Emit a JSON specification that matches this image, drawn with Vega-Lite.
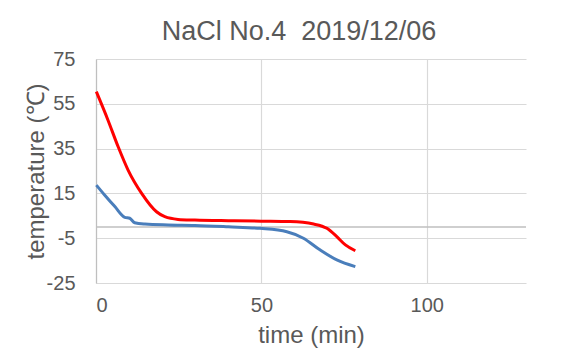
{
  "$schema": "https://vega.github.io/schema/vega-lite/v6.json",
  "width": 430,
  "height": 224,
  "autosize": {"type": "none"},
  "padding": {"left": 96, "top": 59, "right": 35, "bottom": 75},
  "background": "white",
  "title": {
    "text": "NaCl No.4\u00a0\u00a02019/12/06",
    "font": "Liberation Sans",
    "fontSize": 27,
    "fontWeight": "normal",
    "color": "#595959",
    "anchor": "middle",
    "baseline": "alphabetic",
    "offset": -18,
    "dx": -12
  },
  "config": {
    "view": {"stroke": null},
    "axis": {
      "labelFont": "Liberation Sans",
      "titleFont": "Liberation Sans",
      "labelFontSize": 20,
      "titleFontSize": 24,
      "titleFontWeight": "normal",
      "labelColor": "#595959",
      "titleColor": "#595959",
      "gridColor": "#d9d9d9",
      "gridWidth": 1.2,
      "ticks": false,
      "labelExpr": "'' + datum.value"
    }
  },
  "datasets": {
    "readings": [
      {"series": "sample", "time": 0.1, "temp": 60.4},
      {"series": "sample", "time": 3.6, "temp": 47.8},
      {"series": "sample", "time": 6.7, "temp": 35.8},
      {"series": "sample", "time": 9.7, "temp": 25.4},
      {"series": "sample", "time": 13.8, "temp": 15.0},
      {"series": "sample", "time": 18.3, "temp": 6.8},
      {"series": "sample", "time": 20.8, "temp": 4.6},
      {"series": "sample", "time": 24.8, "temp": 3.4},
      {"series": "sample", "time": 29.9, "temp": 3.1},
      {"series": "sample", "time": 40.0, "temp": 2.8},
      {"series": "sample", "time": 50.0, "temp": 2.6},
      {"series": "sample", "time": 58.7, "temp": 2.4},
      {"series": "sample", "time": 65.8, "temp": 1.3},
      {"series": "sample", "time": 69.8, "temp": -0.6},
      {"series": "sample", "time": 72.8, "temp": -4.3},
      {"series": "sample", "time": 75.4, "temp": -8.0},
      {"series": "sample", "time": 78.4, "temp": -10.6},
      {"series": "bath", "time": 0.1, "temp": 18.7},
      {"series": "bath", "time": 2.6, "temp": 14.3},
      {"series": "bath", "time": 5.7, "temp": 9.1},
      {"series": "bath", "time": 8.7, "temp": 4.3},
      {"series": "bath", "time": 10.2, "temp": 3.9},
      {"series": "bath", "time": 11.7, "temp": 1.9},
      {"series": "bath", "time": 14.8, "temp": 1.3},
      {"series": "bath", "time": 21.8, "temp": 0.9},
      {"series": "bath", "time": 29.9, "temp": 0.7},
      {"series": "bath", "time": 40.0, "temp": 0.1},
      {"series": "bath", "time": 49.6, "temp": -0.6},
      {"series": "bath", "time": 57.7, "temp": -2.1},
      {"series": "bath", "time": 62.7, "temp": -5.0},
      {"series": "bath", "time": 67.8, "temp": -10.3},
      {"series": "bath", "time": 72.8, "temp": -14.7},
      {"series": "bath", "time": 78.4, "temp": -17.7}
    ]
  },
  "layer": [
    {
      "data": {"values": [{"temp": 0}]},
      "mark": {"type": "rule", "color": "#bfbfbf", "strokeWidth": 1.5},
      "encoding": {
        "y": {"field": "temp", "type": "quantitative", "scale": {"domain": [-25, 75], "nice": false}}
      }
    },
    {
      "data": {"name": "readings"},
      "mark": {"type": "line", "strokeWidth": 3, "interpolate": "monotone"},
      "encoding": {
        "x": {
          "field": "time",
          "type": "quantitative",
          "title": "time (min)",
          "scale": {"domain": [0, 130], "nice": false},
          "axis": {"values": [0, 50, 100], "domain": false, "labelPadding": 12, "titlePadding": 8}
        },
        "y": {
          "field": "temp",
          "type": "quantitative",
          "title": "temperature (℃)",
          "scale": {"domain": [-25, 75], "nice": false},
          "axis": {"values": [-25, -5, 15, 35, 55, 75], "domain": true, "domainColor": "#bfbfbf", "domainWidth": 1.2, "labelPadding": 21, "titlePadding": -2}
        },
        "color": {
          "field": "series",
          "type": "nominal",
          "scale": {"domain": ["sample", "bath"], "range": ["#ff0000", "#4a7ebb"]},
          "legend": null
        },
        "order": {"field": "time", "type": "quantitative"}
      }
    }
  ]
}
